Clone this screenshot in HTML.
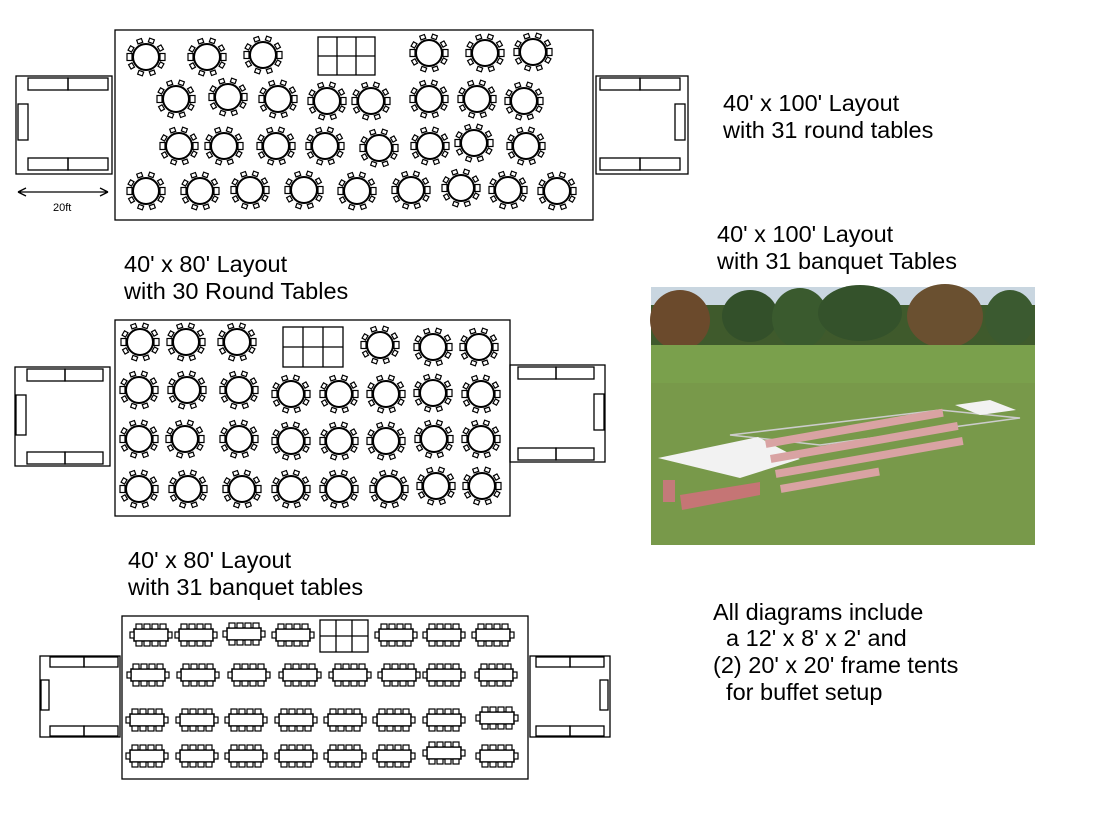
<!DOCTYPE html>
<html><head><meta charset="utf-8"><style>
body{margin:0;background:#fff;width:1097px;height:822px;overflow:hidden}
svg{position:absolute;left:0;top:0}
text{font-family:"Liberation Sans",Arial,sans-serif;font-size:23.5px;fill:#000}
</style></head><body>
<svg width="1097" height="822" viewBox="0 0 1097 822">
<defs>
<g id="rt" fill="#fff" stroke="#000" stroke-width="1.2">
<circle r="13" stroke-width="2"/>
<rect x="-19" y="-3.5" width="5" height="7"/><rect x="14" y="-3.5" width="5" height="7"/>
<g transform="rotate(-60)"><rect x="-3" y="-19" width="5" height="4"/></g>
<g transform="rotate(-20)"><rect x="-3" y="-19" width="5" height="4"/></g>
<g transform="rotate(20)"><rect x="-3" y="-19" width="5" height="4"/></g>
<g transform="rotate(60)"><rect x="-3" y="-19" width="5" height="4"/></g>
<g transform="rotate(120)"><rect x="-3" y="-19" width="5" height="4"/></g>
<g transform="rotate(160)"><rect x="-3" y="-19" width="5" height="4"/></g>
<g transform="rotate(200)"><rect x="-3" y="-19" width="5" height="4"/></g>
<g transform="rotate(240)"><rect x="-3" y="-19" width="5" height="4"/></g>
</g>
<g id="bt" fill="#fff" stroke="#000" stroke-width="1.2">
<rect x="-17" y="-6" width="34" height="12" stroke-width="1.5"/>
<rect x="-21" y="-3" width="4" height="6"/><rect x="17" y="-3" width="4" height="6"/>
<rect x="-15" y="-11" width="6" height="5"/><rect x="-7" y="-11" width="6" height="5"/><rect x="1" y="-11" width="6" height="5"/><rect x="9" y="-11" width="6" height="5"/>
<rect x="-15" y="6" width="6" height="5"/><rect x="-7" y="6" width="6" height="5"/><rect x="1" y="6" width="6" height="5"/><rect x="9" y="6" width="6" height="5"/>
</g>
<linearGradient id="grass" x1="0" y1="0" x2="0" y2="1"><stop offset="0" stop-color="#6f9a45"/><stop offset="1" stop-color="#7d9a4a"/></linearGradient>
</defs>
<g fill="none" stroke="#000" stroke-width="1.3">
<rect x="115" y="30" width="478" height="190"/>
<rect x="16" y="76" width="96" height="98"/>
<rect x="28" y="78" width="40" height="12"/><rect x="68" y="78" width="40" height="12"/>
<rect x="28" y="158" width="40" height="12"/><rect x="68" y="158" width="40" height="12"/>
<rect x="18" y="104" width="10" height="36"/>
<rect x="596" y="76" width="92" height="98"/>
<rect x="600" y="78" width="40" height="12"/><rect x="640" y="78" width="40" height="12"/>
<rect x="600" y="158" width="40" height="12"/><rect x="640" y="158" width="40" height="12"/>
<rect x="675" y="104" width="10" height="36"/>
<rect x="318" y="37" width="57" height="38"/><path d="M337 37V75M356 37V75M318 56H375"/>
<path d="M18 192H108M18 192l8-4M18 192l8 4M108 192l-8-4M108 192l-8 4"/>
<rect x="115" y="320" width="395" height="196"/>
<rect x="15" y="367" width="95" height="99"/>
<rect x="27" y="369" width="38" height="12"/><rect x="65" y="369" width="38" height="12"/>
<rect x="27" y="452" width="38" height="12"/><rect x="65" y="452" width="38" height="12"/>
<rect x="16" y="395" width="10" height="40"/>
<rect x="510" y="365" width="95" height="97"/>
<rect x="518" y="367" width="38" height="12"/><rect x="556" y="367" width="38" height="12"/>
<rect x="518" y="448" width="38" height="12"/><rect x="556" y="448" width="38" height="12"/>
<rect x="594" y="394" width="10" height="36"/>
<rect x="283" y="327" width="60" height="40"/><path d="M303 327V367M323 327V367M283 347H343"/>
<rect x="122" y="616" width="406" height="163"/>
<rect x="40" y="656" width="80" height="81"/>
<rect x="50" y="657" width="34" height="10"/><rect x="84" y="657" width="34" height="10"/>
<rect x="50" y="726" width="34" height="10"/><rect x="84" y="726" width="34" height="10"/>
<rect x="41" y="680" width="8" height="30"/>
<rect x="530" y="656" width="80" height="81"/>
<rect x="536" y="657" width="34" height="10"/><rect x="570" y="657" width="34" height="10"/>
<rect x="536" y="726" width="34" height="10"/><rect x="570" y="726" width="34" height="10"/>
<rect x="600" y="680" width="8" height="30"/>
<rect x="320" y="620" width="48" height="32"/><path d="M336 620V652M352 620V652M320 636H368"/>
</g>
<text x="53" y="211" style="font-size:11px">20ft</text>
<use href="#rt" x="146" y="57"/><use href="#rt" x="207" y="57"/><use href="#rt" x="263" y="55"/><use href="#rt" x="429" y="53"/><use href="#rt" x="485" y="53"/><use href="#rt" x="533" y="52"/>
<use href="#rt" x="176" y="99"/><use href="#rt" x="228" y="97"/><use href="#rt" x="278" y="99"/><use href="#rt" x="327" y="101"/><use href="#rt" x="371" y="101"/><use href="#rt" x="429" y="99"/><use href="#rt" x="477" y="99"/><use href="#rt" x="524" y="101"/>
<use href="#rt" x="179" y="146"/><use href="#rt" x="224" y="146"/><use href="#rt" x="276" y="146"/><use href="#rt" x="325" y="146"/><use href="#rt" x="379" y="148"/><use href="#rt" x="430" y="146"/><use href="#rt" x="474" y="143"/><use href="#rt" x="526" y="146"/>
<use href="#rt" x="146" y="191"/><use href="#rt" x="200" y="191"/><use href="#rt" x="250" y="190"/><use href="#rt" x="304" y="190"/><use href="#rt" x="357" y="191"/><use href="#rt" x="411" y="190"/><use href="#rt" x="461" y="188"/><use href="#rt" x="508" y="190"/><use href="#rt" x="557" y="191"/>
<use href="#rt" x="140" y="342"/><use href="#rt" x="186" y="342"/><use href="#rt" x="237" y="342"/><use href="#rt" x="380" y="345"/><use href="#rt" x="433" y="347"/><use href="#rt" x="479" y="347"/>
<use href="#rt" x="139" y="390"/><use href="#rt" x="187" y="390"/><use href="#rt" x="239" y="390"/><use href="#rt" x="291" y="394"/><use href="#rt" x="339" y="394"/><use href="#rt" x="386" y="394"/><use href="#rt" x="433" y="393"/><use href="#rt" x="481" y="394"/>
<use href="#rt" x="139" y="439"/><use href="#rt" x="185" y="439"/><use href="#rt" x="239" y="439"/><use href="#rt" x="291" y="441"/><use href="#rt" x="339" y="441"/><use href="#rt" x="386" y="441"/><use href="#rt" x="434" y="439"/><use href="#rt" x="481" y="439"/>
<use href="#rt" x="139" y="489"/><use href="#rt" x="188" y="489"/><use href="#rt" x="242" y="489"/><use href="#rt" x="291" y="489"/><use href="#rt" x="339" y="489"/><use href="#rt" x="389" y="489"/><use href="#rt" x="436" y="486"/><use href="#rt" x="482" y="486"/>
<use href="#bt" x="151" y="635"/><use href="#bt" x="196" y="635"/><use href="#bt" x="244" y="634"/><use href="#bt" x="293" y="635"/><use href="#bt" x="396" y="635"/><use href="#bt" x="444" y="635"/><use href="#bt" x="493" y="635"/>
<use href="#bt" x="148" y="675"/><use href="#bt" x="198" y="675"/><use href="#bt" x="249" y="675"/><use href="#bt" x="300" y="675"/><use href="#bt" x="350" y="675"/><use href="#bt" x="399" y="675"/><use href="#bt" x="444" y="675"/><use href="#bt" x="496" y="675"/>
<use href="#bt" x="147" y="720"/><use href="#bt" x="197" y="720"/><use href="#bt" x="246" y="720"/><use href="#bt" x="296" y="720"/><use href="#bt" x="345" y="720"/><use href="#bt" x="394" y="720"/><use href="#bt" x="444" y="720"/><use href="#bt" x="497" y="718"/>
<use href="#bt" x="147" y="756"/><use href="#bt" x="197" y="756"/><use href="#bt" x="246" y="756"/><use href="#bt" x="296" y="756"/><use href="#bt" x="345" y="756"/><use href="#bt" x="394" y="756"/><use href="#bt" x="444" y="753"/><use href="#bt" x="497" y="756"/>
<g>
<rect x="651" y="287" width="384" height="258" fill="url(#grass)"/>
<rect x="651" y="287" width="384" height="30" fill="#c9d6e0"/>
<rect x="651" y="305" width="384" height="50" fill="#3f5a2c"/>
<ellipse cx="680" cy="320" rx="30" ry="30" fill="#6b4a2c"/>
<ellipse cx="750" cy="316" rx="28" ry="26" fill="#33502a"/>
<ellipse cx="800" cy="318" rx="28" ry="30" fill="#3a5a2e"/>
<ellipse cx="860" cy="313" rx="42" ry="28" fill="#34522b"/>
<ellipse cx="945" cy="316" rx="38" ry="32" fill="#6a5030"/>
<ellipse cx="1010" cy="318" rx="25" ry="28" fill="#3b5a30"/>
<rect x="651" y="345" width="384" height="45" fill="#7aa04c"/>
<rect x="651" y="383" width="384" height="162" fill="#78994a"/>
<polygon points="730,435 940,410 1020,418 820,445" fill="none" stroke="#ccc" stroke-width="1.5"/>
<polygon points="758,437 800,459 740,478 658,458" fill="#f2f2f2"/>
<polygon points="955,405 990,400 1016,410 980,415" fill="#f2f2f2"/>
<rect x="663" y="480" width="12" height="22" fill="#c47a7a"/>
<polygon points="680,495 760,482 760,495 682,510" fill="#c57575"/>
<g fill="#d9a3a3">
<rect x="765" y="440" width="180" height="8" transform="rotate(-10 765 440)"/>
<rect x="770" y="455" width="190" height="8" transform="rotate(-10 770 455)"/>
<rect x="775" y="470" width="190" height="8" transform="rotate(-10 775 470)"/>
<rect x="780" y="485" width="100" height="8" transform="rotate(-10 780 485)"/>
</g>
</g>
<text x="723" y="111">40' x 100' Layout</text>
<text x="723" y="138">with 31 round tables</text>
<text x="717" y="242">40' x 100' Layout</text>
<text x="717" y="269">with 31 banquet Tables</text>
<text x="124" y="272">40' x 80' Layout</text>
<text x="124" y="299">with 30 Round Tables</text>
<text x="128" y="568">40' x 80' Layout</text>
<text x="128" y="595">with 31 banquet tables</text>
<text x="713" y="620">All diagrams include</text>
<text x="713" y="646" xml:space="preserve">  a 12' x 8' x 2' and</text>
<text x="713" y="673">(2) 20' x 20' frame tents</text>
<text x="713" y="700" xml:space="preserve">  for buffet setup</text>
</svg>
</body></html>
